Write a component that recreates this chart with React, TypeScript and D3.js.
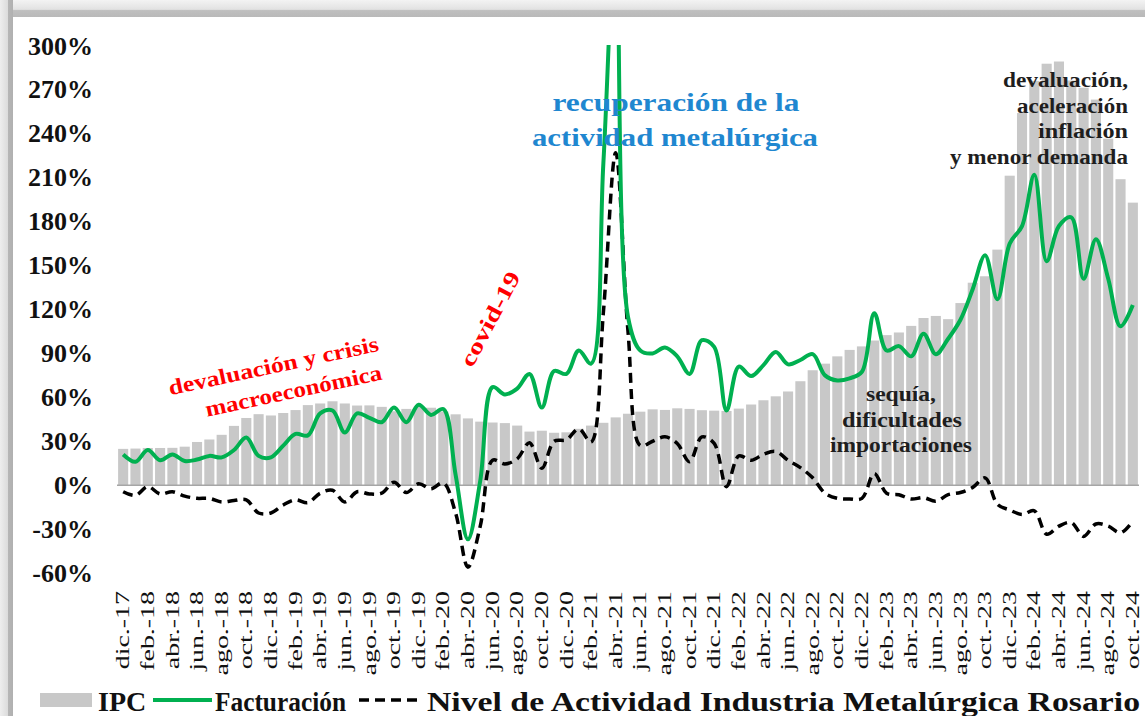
import * as d3 from 'd3'
import React from 'react'

// months, dic-17 .. oct-24 (labels shown every second month)
const months = [
  'dic.-17',
  'ene.-18', 'feb.-18', 'mar.-18', 'abr.-18', 'may.-18', 'jun.-18', 'jul.-18', 'ago.-18', 'sep.-18', 'oct.-18', 'nov.-18', 'dic.-18',
  'ene.-19', 'feb.-19', 'mar.-19', 'abr.-19', 'may.-19', 'jun.-19', 'jul.-19', 'ago.-19', 'sep.-19', 'oct.-19', 'nov.-19', 'dic.-19',
  'ene.-20', 'feb.-20', 'mar.-20', 'abr.-20', 'may.-20', 'jun.-20', 'jul.-20', 'ago.-20', 'sep.-20', 'oct.-20', 'nov.-20', 'dic.-20',
  'ene.-21', 'feb.-21', 'mar.-21', 'abr.-21', 'may.-21', 'jun.-21', 'jul.-21', 'ago.-21', 'sep.-21', 'oct.-21', 'nov.-21', 'dic.-21',
  'ene.-22', 'feb.-22', 'mar.-22', 'abr.-22', 'may.-22', 'jun.-22', 'jul.-22', 'ago.-22', 'sep.-22', 'oct.-22', 'nov.-22', 'dic.-22',
  'ene.-23', 'feb.-23', 'mar.-23', 'abr.-23', 'may.-23', 'jun.-23', 'jul.-23', 'ago.-23', 'sep.-23', 'oct.-23', 'nov.-23', 'dic.-23',
  'ene.-24', 'feb.-24', 'mar.-24', 'abr.-24', 'may.-24', 'jun.-24', 'jul.-24', 'ago.-24', 'sep.-24', 'oct.-24',
]

// IPC, % interanual (barras)
const ipc = [
  24.8,
  25.0, 25.4, 25.4, 25.5, 26.3, 29.5, 31.2, 34.4, 40.5, 45.9, 48.5, 47.6,
  49.3, 51.3, 54.7, 55.8, 57.3, 55.8, 54.4, 54.5, 53.5, 50.5, 52.1, 53.8,
  52.9, 50.3, 48.4, 45.6, 43.4, 42.8, 42.4, 40.7, 36.6, 37.2, 35.8, 36.1,
  38.5, 40.7, 42.6, 46.3, 48.8, 50.2, 51.8, 51.4, 52.5, 52.1, 51.2, 50.9,
  50.7, 52.3, 55.1, 58.0, 60.7, 64.0, 71.0, 78.5, 83.0, 88.0, 92.4, 94.8,
  98.8, 102.5, 104.3, 108.8, 114.2, 115.6, 113.4, 124.4, 138.3, 142.7, 160.9, 211.4,
  254.2, 276.2, 287.9, 289.4, 276.4, 271.5, 263.4, 236.7, 209.0, 193.0,
]

// Facturación, % interanual
const facturacion = [
  21,
  16, 24, 17, 21, 16.5, 17.5, 20, 19, 24, 32.5, 20, 19,
  27, 35, 34, 49, 51, 36, 49, 46, 43, 53, 43, 55,
  48, 52, 7, -37, 3, 67, 62, 66, 76, 53, 78, 76,
  92, 83, 220, 380, 115, 92, 90, 94, 88, 76, 99, 94.5,
  51, 81, 74.5, 82, 91, 82.5, 85.5, 89.5, 75, 71.5, 73, 77.5,
  117.5, 92, 95, 88, 103.5, 89.5, 100, 113, 134, 157, 127, 165,
  177, 212, 153, 177, 183, 141, 168, 141, 108.5, 123,
]

// Nivel de Actividad Industria Metalúrgica Rosario, % interanual
const actividad = [
  -4.5,
  -7, -1, -6, -4.5, -7.5, -9, -9, -11.5, -10.5, -10, -19, -19,
  -13.5, -10, -12, -5.5, -3.5, -11.5, -4.5, -6, -5.5, 2, -5, 1,
  -2.5, 1.5, -19, -56, -28, 17, 14.5, 18, 29, 11.5, 30, 31,
  38.5, 29.5, 118, 227, 105, 27, 30, 33, 28.5, 16, 33, 28.5,
  -1, 20, 17, 21, 23, 17, 12, 5, -5.5, -9, -9.5, -9,
  8, -5.5, -6.5, -9.5, -8.5, -11, -6.5, -5, -1.5, 5, -13, -17,
  -20, -17.5, -33.5, -28, -25.5, -35, -26.5, -28, -32.5, -24.5,
]

const yTicks = [-60, -30, 0, 30, 60, 90, 120, 150, 180, 210, 240, 270, 300]

const W = 1145
const H = 716
const serif = '"Liberation Serif", "Times New Roman", serif'
const GREEN = '#00b050'
const RED = '#ff0000'
const BLUE = '#1f87d0'
const DARK = '#1e1e1e'

export default function App() {
  const x = d3
    .scaleBand<number>()
    .domain(d3.range(months.length))
    .range([117, 1139])
    .paddingInner(0.18)
    .paddingOuter(0.09)
  const y = d3.scaleLinear().domain([-60, 300]).range([573, 46])
  const cx = (i: number) => (x(i) ?? 0) + x.bandwidth() / 2

  const line = d3
    .line<number>()
    .x((_, i) => cx(i))
    .y(d => y(d))
    .curve(d3.curveCatmullRom.alpha(0.5))

  return (
    <svg
      width={W}
      height={H}
      style={{ position: 'absolute', left: 0, top: 0, display: 'block' }}
      fontFamily={serif}
    >
      <defs>
        <clipPath id="plot">
          <rect x={105} y={y(300) - 1} width={1040} height={y(-60) - y(300) + 20} />
        </clipPath>
        <linearGradient id="topShade" x1="0" y1="0" x2="0" y2="1">
          <stop offset="0" stopColor="#f3f3f3" />
          <stop offset="0.55" stopColor="#e2e2e2" />
          <stop offset="0.62" stopColor="#bfbfbf" />
          <stop offset="1" stopColor="#b9b9b9" />
        </linearGradient>
        <linearGradient id="leftShade" x1="0" y1="0" x2="1" y2="0">
          <stop offset="0" stopColor="#eeeeee" />
          <stop offset="0.58" stopColor="#dcdcdc" />
          <stop offset="0.64" stopColor="#b6b6b6" />
          <stop offset="1" stopColor="#b0b0b0" />
        </linearGradient>
      </defs>

      <rect width={W} height={H} fill="#fff" />
      {/* frame shadow */}
      <rect x={0} y={0} width={W} height={17} fill="url(#topShade)" />
      <rect x={0} y={0} width={13} height={H} fill="url(#leftShade)" />

      {/* IPC bars */}
      <g>
        {ipc.map((v, i) => (
          <rect
            key={i}
            x={x(i)}
            y={y(v)}
            width={x.bandwidth()}
            height={y(0) - y(v)}
            fill="#c8c8c8"
          />
        ))}
      </g>

      {/* zero line */}
      <line x1={117} x2={1139} y1={y(0)} y2={y(0)} stroke="#a6a6a6" strokeWidth={1.5} />

      <g clipPath="url(#plot)">
        <path
          d={line(actividad) ?? ''}
          fill="none"
          stroke="#000"
          strokeWidth={3.5}
          strokeDasharray="10,6"
        />
        <path d={line(facturacion) ?? ''} fill="none" stroke={GREEN} strokeWidth={4} />
      </g>

      {/* y axis labels */}
      <g fontWeight="bold" fontSize={26} fill="#111">
        {yTicks.map(t => (
          <text key={t} x={93} y={y(t)} textAnchor="end" dominantBaseline="central">
            {t}%
          </text>
        ))}
      </g>

      {/* x axis labels */}
      <g fontSize={18} fill="#111">
        {months.map((m, i) =>
          i % 2 === 0 ? (
            <text
              key={m}
              transform={`translate(${cx(i)},591) rotate(-90) scale(1.55,1)`}
              textAnchor="end"
              dominantBaseline="central"
            >
              {m}
            </text>
          ) : null,
        )}
      </g>

      {/* annotations */}
      <g fontWeight="bold">
        <g fill={RED} fontSize={22}>
          <text transform="translate(275,373) rotate(-12)" textAnchor="middle" textLength={214} lengthAdjust="spacingAndGlyphs">
            devaluación y crisis
          </text>
          <text transform="translate(295,398) rotate(-12)" textAnchor="middle" textLength={180} lengthAdjust="spacingAndGlyphs">
            macroeconómica
          </text>
          <text transform="translate(490,319) rotate(-62)" textAnchor="middle" dominantBaseline="central" textLength={104} lengthAdjust="spacingAndGlyphs">
            covid-19
          </text>
        </g>
        <g fill={BLUE} fontSize={26} textAnchor="middle">
          <text x={676} y={111} textLength={247} lengthAdjust="spacingAndGlyphs">
            recuperación de la
          </text>
          <text x={675} y={146} textLength={286} lengthAdjust="spacingAndGlyphs">
            actividad metalúrgica
          </text>
        </g>
        <g fill={DARK} fontSize={20} textAnchor="end">
          <text x={1128} y={87} textLength={125} lengthAdjust="spacingAndGlyphs">devaluación,</text>
          <text x={1128} y={113} textLength={111} lengthAdjust="spacingAndGlyphs">aceleración</text>
          <text x={1128} y={138} textLength={90} lengthAdjust="spacingAndGlyphs">inflación</text>
          <text x={1128} y={164} textLength={178} lengthAdjust="spacingAndGlyphs">y menor demanda</text>
        </g>
        <g fill={DARK} fontSize={20} textAnchor="middle">
          <text x={901} y={401} textLength={70} lengthAdjust="spacingAndGlyphs">sequía,</text>
          <text x={902} y={427} textLength={120} lengthAdjust="spacingAndGlyphs">dificultades</text>
          <text x={901} y={452} textLength={142} lengthAdjust="spacingAndGlyphs">importaciones</text>
        </g>
      </g>

      {/* legend */}
      <g fontWeight="bold" fontSize={28} fill="#111">
        <rect x={40} y={693} width={52} height={14} fill="#c8c8c8" />
        <text x={98} y={711}>IPC</text>
        <line x1={153} x2={212} y1={700} y2={700} stroke={GREEN} strokeWidth={4} />
        <text x={215} y={711} textLength={131} lengthAdjust="spacingAndGlyphs">Facturación</text>
        <line x1={359} x2={421} y1={700} y2={700} stroke="#000" strokeWidth={3.5} strokeDasharray="10,6" />
        <text x={427} y={711} textLength={713} lengthAdjust="spacingAndGlyphs">
          Nivel de Actividad Industria Metalúrgica Rosario
        </text>
      </g>
    </svg>
  )
}
